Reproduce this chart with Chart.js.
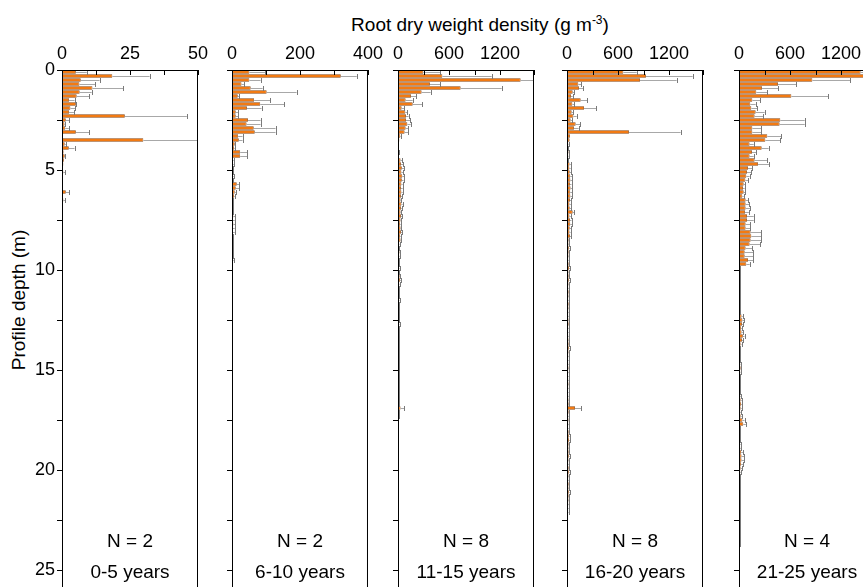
<!DOCTYPE html>
<html>
<head>
<meta charset="utf-8">
<script src="https://cdn.jsdelivr.net/npm/chart.js@4.4.1/dist/chart.umd.min.js"></script>
<style>
  body { margin: 0; background: #fff; overflow: hidden; font-family: "Liberation Sans", Arial, sans-serif; }
  #wrap { position: relative; width: 863px; height: 587px; overflow: hidden; background: #fff; }
  .panel { position: absolute; top: 0; }
  #xTitle { position: absolute; left: 0; width: 960px; top: 13px; text-align: center; font-size: 19px; color: #000; }
  #xTitle sup { font-size: 12px; }
  #yTitle { position: absolute; left: 19px; top: 300px; transform: translate(-50%, -50%) rotate(-90deg); font-size: 19px; white-space: nowrap; color: #000; }
</style>
</head>
<body>
<div id="wrap">
  <div id="xTitle">Root dry weight density (g m<sup>-3</sup>)</div>
  <div id="yTitle">Profile depth (m)</div>
  <canvas id="p1" class="panel" width="196" height="640"></canvas>
  <canvas id="p2" class="panel" width="196" height="640"></canvas>
  <canvas id="p3" class="panel" width="196" height="640"></canvas>
  <canvas id="p4" class="panel" width="196" height="640"></canvas>
  <canvas id="p5" class="panel" width="196" height="640"></canvas>
</div>
<script>
// sampling layers are 0.2 m thick, bars sit at the layer middle
const layerThickness = 0.2;

// 0-5 years (N = 2)
const mean1 = [5.1, 18.5, 6.9, 6.4, 11.2, 6.5, 5.4, 2.6, 5.1, 3.1,
  2.6, 23.1, 1.4, 0.9, 1.2, 5.1, 0.2, 29.9, 1.0, 2.5,
  0.6, 1.0, 0.7, 0.5, 0.3, 0.5, 0.3, 0.3, 0.3, 0.2,
  1.4, 0.2, 0.5, 0.2, 0.1, 0.1, 0.3, 0.3, 0.3, 0.3, 0.2];
const sd1 = [4.0, 13.7, 6.9, 5.8, 11.3, 4.4, 4.7, 2.0, 0.2, 1.7,
  1.8, 22.8, 1.3, 0.3, 1.3, 5.0, 0, 22, 0.4, 2.1,
  0, 0.2, 0, 0, 0, 0.7, 0, 0, 0, 0,
  1.3, 0, 0.7, 0, 0, 0, 0, 0, 0, 0, 0];

// 6-10 years (N = 2)
const mean2 = [51, 320, 51, 28, 55, 102, 17, 65, 83, 44,
  11, 11, 47, 43, 64, 67, 18, 20, 8, 6,
  24, 24, 3, 3, 2, 2, 3, 2, 14, 11,
  8, 6, 2, 2, 3, 2, 4, 3, 4, 3,
  3, 2, 2, 2, 2, 2, 1, 3];
const sd2 = [46, 47, 33, 7, 35, 88, 4, 47, 70, 43,
  8, 8, 37, 41, 64, 61, 13, 11, 2, 2,
  21, 21, 2, 2, 2, 2, 2, 2, 7, 10,
  3, 2, 1, 1, 1, 1, 6, 5, 6, 5,
  5, 2, 2, 2, 2, 2, 1, 2];

// 11-15 years (N = 8)
const mean3 = [298, 522, 1443, 376, 737, 278, 153, 90, 173, 43,
  86, 94, 94, 110, 90, 78, 27, 16, 10, 8,
  12, 10, 30, 35, 45, 40, 50, 45, 40, 35,
  40, 35, 30, 40, 35, 30, 35, 30, 25, 30,
  35, 25, 30, 15, 12, 18, 15, 12, 10, 14,
  12, 20, 25, 15, 12, 10, 12, 15, 10, 12,
  10, 12, 10, 14, 12, 10, 8, 10, 12, 10,
  8, 12, 10, 10, 8, 12, 10, 8, 10, 12,
  10, 8, 10, 12, 30, 10, 8, 6];
const sd3 = [196, 580, 250, 118, 483, 106, 59, 83, 109, 28,
  24, 31, 47, 39, 32, 44, 7, 0, 0, 0,
  5, 0, 20, 25, 25, 20, 25, 20, 15, 20,
  15, 12, 10, 15, 10, 10, 12, 10, 8, 10,
  12, 8, 10, 5, 4, 6, 5, 4, 3, 5,
  4, 8, 10, 5, 4, 3, 4, 5, 3, 4,
  3, 4, 3, 5, 4, 3, 2, 3, 4, 3,
  2, 4, 3, 3, 2, 4, 3, 2, 3, 4,
  3, 2, 3, 4, 45, 3, 2, 0];

// 16-20 years (N = 8)
const mean4 = [663, 929, 859, 133, 141, 67, 47, 161, 63, 200,
  55, 75, 43, 102, 82, 729, 35, 31, 15, 12,
  18, 15, 12, 30, 28, 32, 38, 40, 35, 42,
  38, 40, 35, 30, 32, 67, 30, 35, 38, 32,
  30, 35, 20, 18, 22, 20, 18, 15, 20, 25,
  18, 20, 22, 18, 15, 20, 18, 15, 20, 18,
  15, 15, 18, 20, 15, 12, 15, 18, 20, 22,
  18, 15, 12, 15, 18, 15, 12, 15, 18, 15,
  12, 15, 18, 20, 94, 20, 15, 18, 15, 12,
  20, 22, 25, 20, 18, 20, 22, 18, 15, 20,
  22, 18, 15, 20, 18, 22, 20, 18, 15, 12, 10];
const sd4 = [157, 549, 431, 32, 51, 15, 20, 78, 19, 141,
  20, 39, 16, 51, 55, 608, 0, 0, 5, 5,
  5, 5, 5, 15, 15, 15, 20, 22, 18, 20,
  22, 20, 15, 15, 15, 15, 15, 18, 20, 15,
  12, 15, 8, 8, 8, 8, 8, 8, 8, 10,
  8, 8, 8, 8, 8, 8, 8, 8, 8, 8,
  8, 8, 8, 8, 8, 8, 8, 8, 8, 8,
  8, 8, 8, 8, 8, 8, 8, 8, 8, 8,
  8, 8, 8, 8, 70, 8, 8, 8, 8, 8,
  8, 8, 8, 8, 8, 8, 8, 8, 8, 8,
  8, 8, 8, 8, 8, 8, 8, 8, 8, 8, 8];

// 21-25 years (N = 4)
const mean5 = [1431, 1480, 863, 459, 271, 204, 616, 157, 133, 145,
  196, 184, 486, 478, 157, 157, 333, 310, 125, 267,
  153, 125, 184, 224, 106, 94, 86, 75, 55, 47,
  55, 39, 78, 78, 78, 71, 94, 94, 78, 78,
  137, 145, 137, 125, 78, 67, 67, 106, 86, 10,
  8, 6, 5, 5, 4, 6, 5, 4, 5, 6,
  8, 30, 40, 35, 25, 30, 45, 35, 20, 10,
  8, 10, 12, 15, 20, 15, 10, 8, 10, 8,
  10, 15, 20, 25, 20, 15, 20, 40, 50, 10,
  8, 10, 8, 12, 15, 25, 30, 30, 25, 20,
  15, 10, 8, 10, 8, 6, 8, 10, 6, 5,
  6, 8, 5, 4, 5, 6, 4, 3, 2];
const sd5 = [150, 150, 447, 216, 188, 125, 431, 94, 63, 67,
  106, 98, 287, 295, 106, 106, 165, 176, 48, 82,
  51, 48, 145, 129, 47, 51, 39, 31, 20, 20,
  20, 16, 28, 40, 55, 45, 79, 79, 55, 55,
  126, 118, 126, 126, 79, 98, 98, 60, 40, 3,
  3, 3, 3, 3, 3, 3, 3, 3, 3, 3,
  3, 15, 20, 15, 12, 15, 20, 15, 10, 5,
  5, 5, 5, 5, 5, 5, 5, 5, 5, 5,
  5, 10, 12, 15, 12, 10, 12, 25, 30, 5,
  5, 5, 5, 8, 10, 25, 30, 30, 25, 15,
  10, 4, 4, 4, 4, 4, 4, 4, 4, 4,
  4, 4, 4, 4, 4, 4, 4, 4, 4];

const sampleSizes = ["N = 2", "N = 2", "N = 8", "N = 8", "N = 4"];
const ageClasses = ["0-5 years", "6-10 years", "11-15 years", "16-20 years", "21-25 years"];
const xMaxes = [50, 400, 1600, 1600, 1600];
const xSteps = [12.5, 100, 300, 300, 300];
const xTickLabels = [[0, 25, 50], [0, 200, 400], [0, 600, 1200], [0, 600, 1200], [0, 600, 1200]];
const yTickLabels = [0, 5, 10, 15, 20, 25];

const panelLefts = [62, 232, 398, 567, 739]; // plot-area left edge in the page

Chart.defaults.font.family = '"Liberation Sans", Arial, sans-serif';
Chart.defaults.color = "#000";

// frame + inward ticks on the top axis
const framePlugin = {
    id: "frame",
    afterDraw(chart) {
        const { ctx, chartArea: a, scales } = chart;
        ctx.save();
        ctx.strokeStyle = "#000";
        ctx.lineWidth = 1;
        ctx.strokeRect(a.left + 0.5, a.top + 0.5, a.right - a.left - 1, a.bottom - a.top);
        scales.x.ticks.forEach(t => {
            const px = Math.round(scales.x.getPixelForValue(t.value)) + 0.5;
            ctx.beginPath();
            ctx.moveTo(px, a.top);
            ctx.lineTo(px, a.top + 5);
            ctx.stroke();
        });
        ctx.restore();
    }
};

// one-sided error bars (mean + SD)
const errorPlugin = {
    id: "errorBars",
    afterDatasetsDraw(chart) {
        const { ctx, chartArea: a, scales } = chart;
        const ds = chart.data.datasets[0];
        const meta = chart.getDatasetMeta(0);
        ctx.save();
        ctx.beginPath();
        ctx.rect(a.left, a.top, a.right - a.left - 1, a.bottom - a.top);
        ctx.clip();
        ctx.lineWidth = 1;
        meta.data.forEach((bar, i) => {
            const sd = ds.sd[i];
            if (!sd) return;
            const x1 = scales.x.getPixelForValue(ds.data[i].x + sd);
            const y = Math.round(bar.y) + 0.5;
            ctx.strokeStyle = "#a8a8a8";
            ctx.beginPath();
            ctx.moveTo(bar.x, y);
            ctx.lineTo(x1, y);
            ctx.stroke();
            ctx.strokeStyle = "#7a7a7a";
            ctx.beginPath();
            ctx.moveTo(Math.round(x1) + 0.5, y - 2.5);
            ctx.lineTo(Math.round(x1) + 0.5, y + 2.5);
            ctx.stroke();
        });
        ctx.restore();
    }
};

// N and age class written at the bottom of each panel
const labelPlugin = {
    id: "panelLabels",
    afterDraw(chart, args, opts) {
        const { ctx, chartArea: a, scales } = chart;
        const cx = (a.left + a.right) / 2;
        ctx.save();
        ctx.fillStyle = "#000";
        ctx.font = '19px "Liberation Sans", Arial, sans-serif';
        ctx.textAlign = "center";
        ctx.textBaseline = "middle";
        ctx.fillText(opts.n, cx, scales.y.getPixelForValue(23.6));
        ctx.fillText(opts.age, cx, scales.y.getPixelForValue(25.15));
        ctx.restore();
    }
};

function makePanel(k, means, sds) {
    const canvas = document.getElementById("p" + (k + 1));
    canvas.style.left = (panelLefts[k] - 40) + "px";
    const points = means.map((v, i) => ({ x: v, y: layerThickness * i + layerThickness / 2 }));
    new Chart(canvas.getContext("2d"), {
        type: "bar",
        data: {
            datasets: [{
                data: points,
                sd: sds,
                backgroundColor: "#f27a12",
                borderColor: "#8a420a",
                borderWidth: 0.8,
                barThickness: 3.4,
                inflateAmount: 0,
                borderSkipped: "left"
            }]
        },
        options: {
            indexAxis: "y",
            responsive: false,
            animation: false,
            layout: { padding: { top: 0, right: 20, bottom: 30, left: 0 } },
            plugins: {
                legend: { display: false },
                tooltip: { enabled: false },
                panelLabels: { n: sampleSizes[k], age: ageClasses[k] }
            },
            scales: {
                x: {
                    type: "linear",
                    position: "top",
                    min: 0,
                    max: xMaxes[k],
                    afterFit: s => { s.height = 70; },
                    ticks: {
                        stepSize: xSteps[k],
                        autoSkip: false,
                        maxRotation: 0,
                        padding: 5,
                        font: { size: 18 },
                        callback: v => xTickLabels[k].includes(v) ? String(v) : ""
                    },
                    grid: { drawOnChartArea: false, drawTicks: false },
                    border: { color: "#000", width: 1 }
                },
                y: {
                    type: "linear",
                    reverse: true,
                    offset: false,
                    min: 0,
                    max: 27,
                    afterFit: s => { s.width = 40; },
                    ticks: {
                        stepSize: 2.5,
                        autoSkip: false,
                        padding: 2,
                        font: { size: 18 },
                        callback: v => (k === 0 && yTickLabels.includes(v)) ? String(v) : ""
                    },
                    grid: { drawOnChartArea: false, drawTicks: true, tickLength: 5, color: "#000", offset: false },
                    border: { color: "#000", width: 1 }
                }
            }
        },
        plugins: [errorPlugin, framePlugin, labelPlugin]
    });
}

makePanel(0, mean1, sd1);
makePanel(1, mean2, sd2);
makePanel(2, mean3, sd3);
makePanel(3, mean4, sd4);
makePanel(4, mean5, sd5);
</script>
</body>
</html>
